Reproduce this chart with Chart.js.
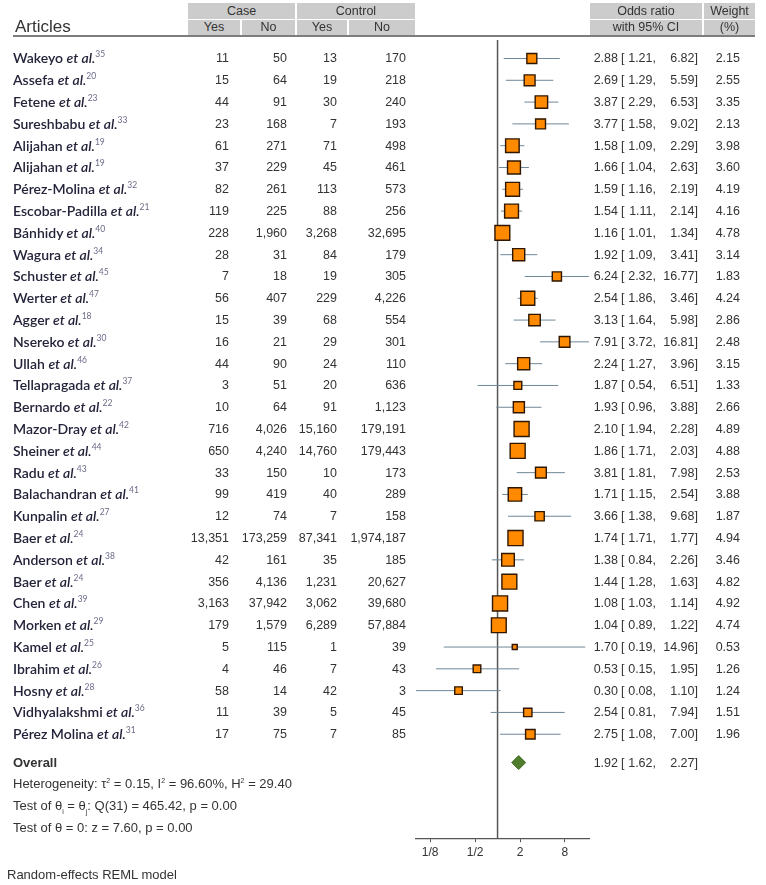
<!DOCTYPE html>
<html>
<head>
<meta charset="utf-8">
<script src="https://cdn.jsdelivr.net/npm/chart.js@4"></script>
<style>
  body { margin: 0; background: #fff; }
  #wrap { position: relative; width: 766px; height: 885px; overflow: hidden;
          font-family: "Liberation Sans", Arial, sans-serif; color: #333; }
  #forest { position: absolute; left: 0; top: 0; }
  .t { position: absolute; white-space: nowrap; font-size: 12.5px; line-height: 16px; }
  .name { font-family: Lato, "Open Sans", sans-serif; font-size: 14px; font-weight: 600; color: #23233a; }
  .name sup { font-size: 8.5px; font-weight: 400; color: #6a6a88; vertical-align: 6px; line-height: 0; }
  .hd { position: absolute; background: #cccccc; font-size: 12.5px; text-align: center; color: #333; }
  .small { font-size: 13px; }
  .small sup, .small sub { font-size: 7px; line-height: 0; }
</style>
</head>
<body>
<div id="wrap">
  <canvas id="forest" width="766" height="885"></canvas>
</div>
<script>
// study labels and reference numbers
var authors = ['Wakeyo', 'Assefa', 'Fetene', 'Sureshbabu', 'Alijahan', 'Alijahan', 'Pérez-Molina',
  'Escobar-Padilla', 'Bánhidy', 'Wagura', 'Schuster', 'Werter', 'Agger', 'Nsereko', 'Ullah',
  'Tellapragada', 'Bernardo', 'Mazor-Dray', 'Sheiner', 'Radu', 'Balachandran', 'Kunpalin', 'Baer',
  'Anderson', 'Baer', 'Chen', 'Morken', 'Kamel', 'Ibrahim', 'Hosny', 'Vidhyalakshmi', 'Pérez Molina'];
var refs = [35, 20, 23, 33, 19, 19, 32, 21, 40, 34, 45, 47, 18, 30, 46, 37, 22, 42, 44, 43, 41, 27, 24,
  38, 24, 39, 29, 25, 26, 28, 36, 31];

// 2x2 counts
var caseYes = [11, 15, 44, 23, 61, 37, 82, 119, 228, 28, 7, 56, 15, 16, 44, 3, 10, 716, 650, 33, 99, 12,
  13351, 42, 356, 3163, 179, 5, 4, 58, 11, 17];
var caseNo = [50, 64, 91, 168, 271, 229, 261, 225, 1960, 31, 18, 407, 39, 21, 90, 51, 64, 4026, 4240, 150,
  419, 74, 173259, 161, 4136, 37942, 1579, 115, 46, 14, 39, 75];
var controlYes = [13, 19, 30, 7, 71, 45, 113, 88, 3268, 84, 19, 229, 68, 29, 24, 20, 91, 15160, 14760, 10,
  40, 7, 87341, 35, 1231, 3062, 6289, 1, 7, 42, 5, 7];
var controlNo = [170, 218, 240, 193, 498, 461, 573, 256, 32695, 179, 305, 4226, 554, 301, 110, 636, 1123,
  179191, 179443, 173, 289, 158, 1974187, 185, 20627, 39680, 57884, 39, 43, 3, 45, 85];

// odds ratios, 95% CI and weights
var oddsRatio = [2.88, 2.69, 3.87, 3.77, 1.58, 1.66, 1.59, 1.54, 1.16, 1.92, 6.24, 2.54, 3.13, 7.91, 2.24,
  1.87, 1.93, 2.10, 1.86, 3.81, 1.71, 3.66, 1.74, 1.38, 1.44, 1.08, 1.04, 1.70, 0.53, 0.30, 2.54, 2.75];
var ciLow = [1.21, 1.29, 2.29, 1.58, 1.09, 1.04, 1.16, 1.11, 1.01, 1.09, 2.32, 1.86, 1.64, 3.72, 1.27,
  0.54, 0.96, 1.94, 1.71, 1.81, 1.15, 1.38, 1.71, 0.84, 1.28, 1.03, 0.89, 0.19, 0.15, 0.08, 0.81, 1.08];
var ciHigh = [6.82, 5.59, 6.53, 9.02, 2.29, 2.63, 2.19, 2.14, 1.34, 3.41, 16.77, 3.46, 5.98, 16.81, 3.96,
  6.51, 3.88, 2.28, 2.03, 7.98, 2.54, 9.68, 1.77, 2.26, 1.63, 1.14, 1.22, 14.96, 1.95, 1.10, 7.94, 7.00];
var weights = [2.15, 2.55, 3.35, 2.13, 3.98, 3.60, 4.19, 4.16, 4.78, 3.14, 1.83, 4.24, 2.86, 2.48, 3.15,
  1.33, 2.66, 4.89, 4.88, 2.53, 3.88, 1.87, 4.94, 3.46, 4.82, 4.92, 4.74, 0.53, 1.26, 1.24, 1.51, 1.96];

// pooled estimate [or, low, high]
var overall = [1.92, 1.62, 2.27];

// x axis ticks
var tickValues = [0.125, 0.5, 2, 8];
var tickLabels = ['1/8', '1/2', '2', '8'];

// layout (row index units on the y scale)
var Y_MIN = -1, Y_MAX = 35.77, OVERALL_ROW = 32.3;

var ciPoints = [];
ciLow.forEach(function (lo, i) {
  ciPoints.push({ x: lo, y: i }, { x: ciHigh[i], y: i }, { x: lo, y: null });
});

var ctx = document.getElementById('forest').getContext('2d');
var chart = new Chart(ctx, {
  type: 'scatter',
  data: {
    datasets: [{
      data: oddsRatio.map(function (v, i) { return { x: v, y: i }; }),
      pointStyle: 'rect',
      pointRadius: weights.map(function (w) { return Math.sqrt(w) * 4.8; }),
      backgroundColor: '#ff8a00',
      borderColor: '#2e1600',
      borderWidth: 1.4,
      clip: false,
      order: 0
    }, {
      data: [{ x: overall[0], y: OVERALL_ROW }],
      pointStyle: 'rectRot',
      pointRadius: 7,
      backgroundColor: '#4f7d2c',
      borderColor: '#44702a',
      borderWidth: 1,
      order: 0
    }, {
      data: ciPoints,
      showLine: true,
      spanGaps: false,
      borderColor: '#6f8797',
      borderWidth: 1,
      pointRadius: 0,
      order: 2
    }, {
      data: [{ x: 1, y: -0.85 }, { x: 1, y: Y_MAX }],
      showLine: true,
      borderColor: '#555',
      borderWidth: 1.5,
      pointRadius: 0,
      order: 3
    }]
  },
  options: {
    responsive: false,
    animation: false,
    events: [],
    layout: { padding: { left: 415.7, right: 177, top: 36.7, bottom: 22.4 } },
    plugins: { legend: { display: false }, tooltip: { enabled: false } },
    scales: {
      x: {
        type: 'logarithmic',
        min: Math.min.apply(null, ciLow),
        max: Math.max.apply(null, ciHigh),
        afterBuildTicks: function (s) {
          s.ticks = tickValues.map(function (v) { return { value: v }; });
        },
        ticks: {
          autoSkip: false, maxRotation: 0, padding: 3, color: '#333',
          font: { family: 'Liberation Sans', size: 12 },
          callback: function (v, i) { return tickLabels[i]; }
        },
        grid: { drawOnChartArea: false, drawTicks: true, tickLength: 4, color: '#555' },
        border: { display: true, color: '#555', width: 1.2 }
      },
      y: { type: 'linear', reverse: true, min: Y_MIN, max: Y_MAX, display: false }
    }
  }
});

// table text, placed on the chart's own row positions
var wrap = document.getElementById('wrap');
function put(html, x, y, align, cls) {
  var d = document.createElement('div');
  d.className = 't' + (cls ? ' ' + cls : '');
  d.innerHTML = html;
  d.style.top = (y - 8) + 'px';
  if (align === 'right') d.style.right = (766 - x) + 'px';
  else d.style.left = x + 'px';
  wrap.appendChild(d);
  return d;
}
function box(text, x, y, w, h) {
  var d = document.createElement('div');
  d.className = 'hd';
  d.style.left = x + 'px'; d.style.top = y + 'px';
  d.style.width = w + 'px'; d.style.height = h + 'px';
  d.style.lineHeight = h + 'px';
  d.innerHTML = text;
  wrap.appendChild(d);
}
function fmt(n) { return n.toLocaleString('en-US'); }

// header
box('Case', 188, 3, 107, 16);
box('Control', 297, 3, 118, 16);
box('Odds ratio', 590, 3, 112, 16);
box('Weight', 704, 3, 51, 16);
box('Yes', 188, 20, 52, 15);
box('No', 242, 20, 53, 15);
box('Yes', 297, 20, 50, 15);
box('No', 349, 20, 66, 15);
box('with 95% CI', 590, 20, 112, 15);
box('(%)', 704, 20, 51, 15);
var rule = document.createElement('div');
rule.style.cssText = 'position:absolute;left:13px;top:35px;width:742px;height:2px;background:#7d7d7d;';
wrap.appendChild(rule);
put('Articles', 15, 27).style.fontSize = '17px';

var ys = chart.scales.y;
function orCells(y, est, lo, hi) {
  put(est.toFixed(2), 618, y, 'right');
  put('[', 621, y);
  put(lo.toFixed(2) + ',', 656, y, 'right');
  put(hi.toFixed(2) + ']', 698, y, 'right');
}
authors.forEach(function (a, i) {
  var y = ys.getPixelForValue(i);
  put(a + ' <i>et al.</i><sup>' + refs[i] + '</sup>', 13, y, 'left', 'name');
  put(fmt(caseYes[i]), 229, y, 'right');
  put(fmt(caseNo[i]), 287, y, 'right');
  put(fmt(controlYes[i]), 337, y, 'right');
  put(fmt(controlNo[i]), 406, y, 'right');
  orCells(y, oddsRatio[i], ciLow[i], ciHigh[i]);
  put(weights[i].toFixed(2), 740, y, 'right');
});

var yo = ys.getPixelForValue(OVERALL_ROW);
put('<b>Overall</b>', 13, yo).style.fontSize = '13px';
orCells(yo, overall[0], overall[1], overall[2]);
put('Heterogeneity: τ<sup>2</sup> = 0.15, I<sup>2</sup> = 96.60%, H<sup>2</sup> = 29.40', 13, 784, 'left', 'small');
put('Test of θ<sub>i</sub> = θ<sub>j</sub>: Q(31) = 465.42, p = 0.00', 13, 806, 'left', 'small');
put('Test of θ = 0: z = 7.60, p = 0.00', 13, 828, 'left', 'small');
put('Random-effects REML model', 7, 875, 'left', 'small');
</script>
</body>
</html>
